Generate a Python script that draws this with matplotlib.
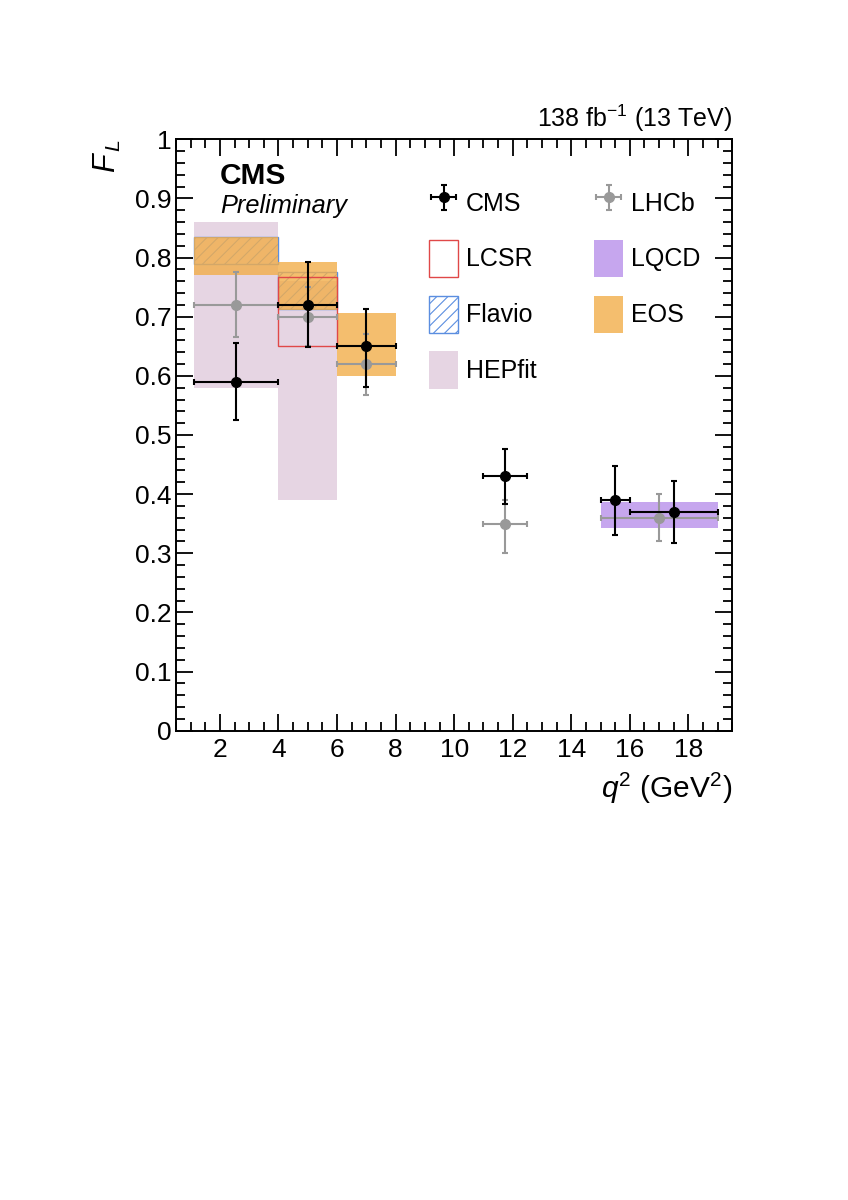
import matplotlib
matplotlib.use("Agg")
import matplotlib.pyplot as plt
import numpy as np

plt.rcParams['font.family'] = ['Liberation Sans', 'DejaVu Sans']
plt.rcParams['mathtext.fontset'] = 'custom'
plt.rcParams['mathtext.rm'] = 'Liberation Sans'
plt.rcParams['mathtext.it'] = 'Liberation Sans:italic'
plt.rcParams['mathtext.bf'] = 'Liberation Sans:bold'
plt.rcParams['hatch.linewidth'] = 0.8

# ---------------- data ----------------
# CMS measurement
cms_lo = [1.1, 4.0, 6.0, 11.0, 15.0, 16.0]
cms_hi = [4.0, 6.0, 8.0, 12.5, 16.0, 19.0]
cms_x = [2.55, 5.0, 7.0, 11.75, 15.5, 17.5]
cms_fl = [0.59, 0.72, 0.65, 0.43, 0.39, 0.37]
cms_err_up = [0.066, 0.073, 0.063, 0.046, 0.058, 0.053]
cms_err_dn = [0.064, 0.072, 0.068, 0.046, 0.059, 0.053]

# LHCb measurement
lhcb_lo = [1.1, 4.0, 6.0, 11.0, 15.0]
lhcb_hi = [4.0, 6.0, 8.0, 12.5, 19.0]
lhcb_x = [2.55, 5.0, 7.0, 11.75, 17.0]
lhcb_fl = [0.72, 0.70, 0.62, 0.35, 0.36]
lhcb_err_up = [0.056, 0.05, 0.05, 0.04, 0.04]
lhcb_err_dn = [0.055, 0.05, 0.052, 0.05, 0.039]

# theory predictions (bin low, bin high, band min, band max)
hepfit_lo = [1.1, 4.0]
hepfit_hi = [4.0, 6.0]
hepfit_min = [0.58, 0.39]
hepfit_max = [0.86, 0.76]

eos_lo = [1.1, 4.0, 6.0]
eos_hi = [4.0, 6.0, 8.0]
eos_min = [0.770, 0.712, 0.600]
eos_max = [0.835, 0.793, 0.706]

flavio_lo = [1.1, 4.0]
flavio_hi = [4.0, 6.0]
flavio_min = [0.789, 0.713]
flavio_max = [0.834, 0.775]

lcsr_lo = [4.0]
lcsr_hi = [6.0]
lcsr_min = [0.651]
lcsr_max = [0.768]

lqcd_lo = [15.0]
lqcd_hi = [19.0]
lqcd_min = [0.343]
lqcd_max = [0.386]

xticks = [2, 4, 6, 8, 10, 12, 14, 16, 18]
xtick_labels = ['2', '4', '6', '8', '10', '12', '14', '16', '18']
yticks = [0.0, 0.1, 0.2, 0.3, 0.4, 0.5, 0.6, 0.7, 0.8, 0.9, 1.0]
ytick_labels = ['0', '0.1', '0.2', '0.3', '0.4', '0.5', '0.6', '0.7', '0.8', '0.9', '1']

# ---------------- figure ----------------
fig = plt.figure(figsize=(8.48, 12), dpi=100)
ax = fig.add_axes([0.2075, 0.3911, 0.6561, 0.4928])


def band(lo, hi, bmin, bmax, **kw):
    lo = np.asarray(lo); hi = np.asarray(hi)
    bmin = np.asarray(bmin); bmax = np.asarray(bmax)
    return ax.bar(lo, bmax - bmin, width=hi - lo, bottom=bmin, align='edge', **kw)


h_hep = band(hepfit_lo, hepfit_hi, hepfit_min, hepfit_max,
             color='#e6d5e3', linewidth=0, zorder=1, label='HEPfit')
h_fla = band(flavio_lo, flavio_hi, flavio_min, flavio_max,
             facecolor='none', edgecolor='#5b8ee0', hatch='///', linewidth=1.0,
             zorder=2, label='Flavio')
h_eos = band(eos_lo, eos_hi, eos_min, eos_max,
             color='#f2ae4a', alpha=0.8, linewidth=0, zorder=3, label='EOS')
h_lqcd = band(lqcd_lo, lqcd_hi, lqcd_min, lqcd_max,
              color='#c6a6ee', linewidth=0, zorder=3, label='LQCD')
h_lcsr = band(lcsr_lo, lcsr_hi, lcsr_min, lcsr_max,
              facecolor='none', edgecolor='#e04848', linewidth=1.0,
              zorder=4, label='LCSR')

lx = np.asarray(lhcb_x)
h_lhcb = ax.errorbar(lhcb_x, lhcb_fl,
                     xerr=[lx - np.asarray(lhcb_lo), np.asarray(lhcb_hi) - lx],
                     yerr=[lhcb_err_dn, lhcb_err_up],
                     fmt='o', color='#999999', ecolor='#999999', markersize=7,
                     elinewidth=1.5, capsize=2.2, capthick=1.5, zorder=5,
                     label='LHCb')
cx = np.asarray(cms_x)
h_cms = ax.errorbar(cms_x, cms_fl,
                    xerr=[cx - np.asarray(cms_lo), np.asarray(cms_hi) - cx],
                    yerr=[cms_err_dn, cms_err_up],
                    fmt='o', color='black', ecolor='black', markersize=7,
                    elinewidth=1.5, capsize=2.2, capthick=1.5, zorder=6,
                    label='CMS')

ax.set_xlim(0.5, 19.5)
ax.set_ylim(0, 1)
ax.set_xticks(xticks)
ax.set_xticklabels(xtick_labels)
ax.set_yticks(yticks)
ax.set_yticklabels(ytick_labels)
ax.xaxis.set_minor_locator(matplotlib.ticker.MultipleLocator(0.5))
ax.yaxis.set_minor_locator(matplotlib.ticker.MultipleLocator(0.02))
ax.tick_params(which='both', direction='in', top=True, right=True, width=1.3)
ax.tick_params(which='major', length=12.2, labelsize=19)
ax.tick_params(axis='x', which='major', pad=5.0)
ax.tick_params(axis='y', which='major', pad=3)
ax.tick_params(which='minor', length=6.2)
for s in ax.spines.values():
    s.set_linewidth(1.4)

ax.set_xlabel(r'$q^{2}$ (GeV$^{2}$)', fontsize=21.5, loc='right')
ax.xaxis.label.set_va('baseline')
ax.xaxis.set_label_coords(1.0, -0.1138)

ax.set_ylabel(r'$F_{\,L}$', fontsize=22, loc='top')
ax.yaxis.set_label_coords(-0.095, 1.0)

ax.text(0.078, 0.9239, 'CMS', transform=ax.transAxes, fontsize=21.5,
        fontweight='bold', ha='left', va='baseline')
ax.text(0.079, 0.8749, 'Preliminary', transform=ax.transAxes, fontsize=18.3,
        fontstyle='italic', ha='left', va='baseline')
ax.text(1.0, 1.0213, r'138 fb$^{-1}$ (13 TeV)', transform=ax.transAxes,
        fontsize=18, ha='right', va='baseline')

handles = [h_cms, h_lcsr, h_fla, h_hep, h_lhcb, h_lqcd, h_eos]
labels = ['CMS', 'LCSR', 'Flavio', 'HEPfit', 'LHCb', 'LQCD', 'EOS']
leg = ax.legend(handles, labels, ncol=2, loc='upper left',
                bbox_to_anchor=(429 / 848, 1 - 184 / 1200),
                bbox_transform=fig.transFigure, frameon=False, fontsize=18,
                borderpad=0, borderaxespad=0, handlelength=1.16,
                handleheight=1.92, labelspacing=0.74, handletextpad=0.3,
                columnspacing=2.32)

fig.savefig('out.png', dpi=100)
